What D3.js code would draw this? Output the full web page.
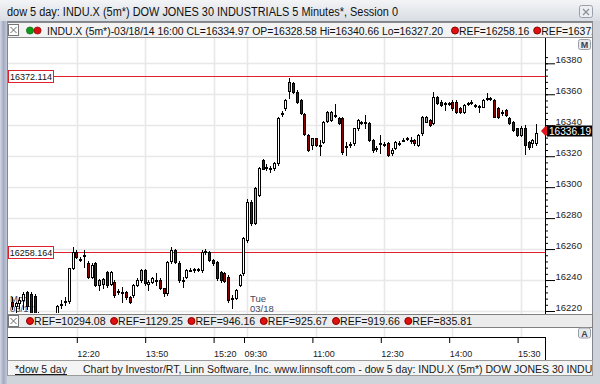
<!DOCTYPE html>
<html>
<head>
<meta charset="utf-8">
<script src="https://d3js.org/d3.v7.min.js"></script>
<style>
  body { margin: 0; background: #fff; }
  svg { display: block; font-family: "Liberation Sans", "DejaVu Sans", sans-serif; }
</style>
</head>
<body>
<div id="chart"></div>
<script>
// two sessions of 5 minute bars, bar times are the bar start
const sessions = [
  { date: "03/17", day: "Mon", first: "10:55" },
  { date: "03/18", day: "Tue", first: "09:30" }
];

// [open, high, low, close]
const bars0317 = [
  [16226,16229,16221,16223],[16223,16226,16219,16225],[16225,16229,16222,16227],[16227,16232,16221,16231],[16232,16233,16221,16223],
  [16231,16232,16217,16219],[16230,16231,16215,16217],[16219,16219.5,16212,16214],[16214,16216,16208,16210],[16210,16214,16206,16213],
  [16213,16216,16209,16215],[16215,16218,16212,16217],[16217,16224,16214,16223.5],[16224,16227,16222,16224.5],[16226,16229,16224,16226.5],
  [16226.5,16248,16225,16247.5],[16248,16261.5,16247,16258.3],[16258.3,16259.5,16254,16255.2],[16253.3,16255,16252,16253.6],[16256,16259.4,16248.6,16256.4],
  [16250.8,16252,16241,16242.2],[16242.2,16251,16241,16249.7],[16250.8,16251.5,16236,16236.8],[16240,16240.5,16233.6,16237],[16240.4,16241,16234.6,16237.2],
  [16245.4,16246,16235.8,16236.8],[16237.5,16246,16237,16245],[16239,16240,16229,16230.3],[16232.5,16234,16231,16232.8],[16232,16235.7,16226,16232.2],
  [16232.5,16233,16228,16229.3],[16229.3,16230,16225,16226],[16230.3,16237.5,16229,16236.8],[16237,16241,16236,16240],[16246.5,16247,16239,16240.2],
  [16246.5,16247,16237,16238],[16237.5,16240,16233.6,16238.6],[16239,16242,16238,16241],[16240,16244.3,16236.8,16240.3],[16240,16241,16234,16234.6],
  [16234.6,16235,16230,16231.4],[16231.4,16252,16230.5,16251.9],[16252,16261.5,16251,16259.4],[16259.4,16260,16251,16251.9],[16250.8,16252,16239,16240],
  [16240,16242.2,16235.7,16240.3],[16242,16247,16241,16246.5],[16246.5,16247.8,16245.6,16246.8],[16246.6,16248,16245.5,16246.9],[16246.7,16248,16245.8,16247],
  [16246.5,16259.4,16245,16258.3],[16258.2,16260,16257,16258.5],[16258.3,16259,16252,16252.9],[16252.9,16253.5,16250,16250.8],[16251.9,16252.5,16240,16241.1],
  [16245.4,16246,16239,16240],[16244.3,16245,16238.5,16239.3],[16242,16243,16226,16227.1],[16228,16230.3,16221.7,16228.3],[16228.5,16234.5,16228,16233.8],
  [16236.8,16244,16236,16243.3]
];

const bars0318 = [
  [16244.3,16268,16243,16266.9],[16265.9,16292.5,16264.5,16290.6],[16290.6,16291.5,16275.5,16276.6],[16299.2,16300,16276,16277],[16294.9,16313,16294,16312.2],
  [16317.5,16318.5,16311.5,16312],[16313,16315,16311,16313.2],[16312.1,16313.5,16310,16312.3],[16312.2,16316,16311,16315.4],[16315.4,16345.5,16314.5,16344.5],
  [16347.6,16349,16346,16347.9],[16350.9,16357,16350,16356.3],[16368.1,16370.5,16357.5,16362],[16367.1,16368,16361,16361.7],[16361.7,16362.5,16354.5,16355.2],
  [16356.3,16357,16347,16347.7],[16347,16348,16333.5,16334.5],[16333.7,16334.5,16323.5,16324],[16331.5,16332,16324.5,16327.5],[16331.5,16332,16326.5,16327.2],
  [16327,16330.5,16320.8,16327.4],[16329.4,16343,16328.5,16342.3],[16348.8,16349.5,16342,16342.5],[16348.8,16349.5,16342.8,16343.4],[16346,16354,16345.5,16346.3],
  [16344.5,16345,16340.5,16341.2],[16344.5,16345,16321.5,16322.9],[16326,16329.4,16320.8,16326.3],[16327.7,16329,16326,16328],[16328.7,16338.5,16327,16338],
  [16338,16344,16337,16343.4],[16341.6,16343,16340.5,16341.9],[16341.6,16346.6,16338,16341.8],[16341.2,16342,16329.5,16330.5],[16330.5,16331,16323,16324],
  [16325,16326.5,16323.5,16325.3],[16328.2,16333.7,16321.9,16328.4],[16327.8,16329,16326.5,16328],[16328.3,16329,16320,16320.8],[16321.9,16325,16321,16324],
  [16325.1,16330,16324.5,16329.4],[16328.5,16330,16327.5,16328.7],[16330.4,16331.5,16329.5,16330.6],[16331.4,16332.5,16330.5,16331.6],[16330.4,16332.6,16328.3,16330.6],
  [16330.5,16331,16327.5,16328.3],[16327.2,16334.5,16326.5,16333.7],[16345.5,16346,16334,16334.8],[16345.5,16346,16342,16342.3],[16343.4,16344,16339.5,16340.1],
  [16341.2,16361.7,16340.5,16358],[16358.4,16359,16353.5,16354.2],[16355.2,16356,16352.5,16353.1],[16354,16355.2,16349.8,16354.3],[16354.1,16355,16353,16354.3],
  [16355.2,16356,16350,16350.9],[16355.2,16356,16348,16348.8],[16350.9,16351.5,16348,16348.6],[16348.8,16353.5,16348,16353.1],[16354,16355,16353,16354.3],
  [16355,16356,16354,16355.3],[16353,16354,16352,16353.3],[16352,16353,16348.5,16352.2],[16352,16357,16351.5,16356.3],[16357.3,16360.6,16356.5,16357.6],
  [16357.2,16358.5,16356,16357.5],[16356.3,16357,16345,16345.5],[16351,16351.5,16344.5,16345.3],[16348.2,16350,16346.5,16348.5],[16349.8,16350.5,16346,16346.6],
  [16344.5,16345,16340.5,16341.2],[16342.3,16343,16336,16336.9],[16338,16338.5,16333,16333.7],[16338,16339.5,16333,16333.8],[16338,16340,16321.5,16327.5],
  [16329.4,16330,16324.5,16326.2],[16328.3,16331,16326,16330.5],[16328.58,16340.66,16327.20,16334.97]
];

const timeTicks = ["03/17 12:20", "03/17 13:50", "03/17 15:20", "03/18 09:30", "03/18 11:00", "03/18 12:30", "03/18 14:00", "03/18 15:30"];
const priceTicks = [16220, 16240, 16260, 16280, 16300, 16320, 16340, 16360, 16380];
const minorTicks = d3.range(16220, 16385, 4);
const refLevels = [16258.164, 16372.114];
const studyRefs = [10294.08, 1129.25, 946.16, 925.67, 919.66, 835.81];
const lastPrice = 16336.19;
const titleText = "dow 5 day: INDU.X (5m*) DOW JONES 30 INDUSTRIALS 5 Minutes*, Session 0";

// build bars
const toMin = s => { const [h, m] = s.split(":").map(Number); return h * 60 + m; };
const hhmm = m => String(Math.floor(m / 60)).padStart(2, "0") + ":" + String(m % 60).padStart(2, "0");
const bars = [];
[bars0317, bars0318].forEach((rows, k) => {
  rows.forEach((r, j) => {
    bars.push({ key: sessions[k].date + " " + hhmm(toMin(sessions[k].first) + 5 * j), session: k,
                o: r[0], h: r[1], l: r[2], c: r[3] });
  });
});
const last = bars[bars.length - 1];

const svg = d3.select("#chart").append("svg").attr("width", 600).attr("height", 384);
const defs = svg.append("defs");
const g1 = defs.append("linearGradient").attr("id", "titleGrad").attr("x1", 0).attr("y1", 0).attr("x2", 0).attr("y2", 1);
g1.append("stop").attr("offset", 0).attr("stop-color", "#f3f4f6");
g1.append("stop").attr("offset", 1).attr("stop-color", "#d9dde3");
const g2 = defs.append("linearGradient").attr("id", "sideGrad").attr("x1", 0).attr("y1", 0).attr("x2", 1).attr("y2", 0);
g2.append("stop").attr("offset", 0).attr("stop-color", "#d3d7e0");
g2.append("stop").attr("offset", 0.5).attr("stop-color", "#a2abc6");
g2.append("stop").attr("offset", 1).attr("stop-color", "#c4c9d6");
function clip(id, x, y, w, h) {
  defs.append("clipPath").attr("id", id).append("rect").attr("x", x).attr("y", y).attr("width", w).attr("height", h);
}
clip("pane", 7, 38, 538, 275);
clip("hdr", 7, 22, 585, 16);
clip("stat", 7, 361, 585, 15);

// window frame
svg.append("rect").attr("width", 600).attr("height", 384).attr("fill", "#cfd3da");
svg.append("rect").attr("width", 600).attr("height", 21).attr("fill", "url(#titleGrad)");
svg.append("rect").attr("x", 0).attr("y", 21).attr("width", 7).attr("height", 363).attr("fill", "url(#sideGrad)");
svg.append("text").attr("x", 7).attr("y", 16).attr("font-size", 12).attr("fill", "#111")
  .attr("textLength", 391).attr("lengthAdjust", "spacingAndGlyphs").text(titleText);
svg.append("rect").attr("x", 579.5).attr("y", 5.5).attr("width", 13).attr("height", 12).attr("rx", 2)
  .attr("fill", "#eceef1").attr("stroke", "#9aa0aa");
svg.append("path").attr("d", "M583,9L589,15M589,9L583,15").attr("stroke", "#8a8f98").attr("stroke-width", 1.2);

// chart panel
svg.append("rect").attr("x", 7.5).attr("y", 21.5).attr("width", 585).attr("height", 354)
  .attr("fill", "#fff").attr("stroke", "#80868f");

const x = d3.scalePoint().domain(bars.map(d => d.key)).range([12.2, 536.6]);
const y = d3.scaleLinear().domain([16220, 16380]).range([311, 63.3]);
const barStep = x.step();

// grid (second session's grid sits one bar right of its tick)
const gridX = d => Math.round(x(d) + (d.startsWith(sessions[1].date) ? barStep * 0.85 : 0)) + 0.5;
const grid = svg.append("g").attr("stroke", "#e8e8e8").attr("stroke-width", 1.6);
grid.selectAll("line.h").data(priceTicks).join("line")
  .attr("x1", 8).attr("x2", 545).attr("y1", d => Math.round(y(d)) + 0.5).attr("y2", d => Math.round(y(d)) + 0.5);
grid.selectAll("line.v").data(timeTicks).join("line")
  .attr("x1", gridX).attr("x2", gridX).attr("y1", 38).attr("y2", 337);

// day labels
sessions.forEach((s, k) => {
  const lx = k === 0 ? 10 : x(s.date + " " + s.first) + 6;
  const t = svg.append("g").attr("font-size", 9.5).attr("fill", "#3e4760");
  t.append("text").attr("x", lx).attr("y", 302).text(s.day);
  t.append("text").attr("x", lx).attr("y", 311.5).text(s.date);
});

// reference lines
const pane = svg.append("g").attr("clip-path", "url(#pane)");
pane.selectAll("line.ref").data(refLevels).join("line")
  .attr("x1", 8).attr("x2", 545).attr("y1", d => Math.round(y(d)) + 0.5).attr("y2", d => Math.round(y(d)) + 0.5)
  .attr("stroke", "#e0202a").attr("stroke-width", 1);

// candles
const fillOf = (d, i) => d.c >= d.o ? "#ffffff" : (i > 0 && d.c >= bars[i - 1].c ? "#a4a4a4" : "#8c0000");
const cg = pane.selectAll("g.bar").data(bars).join("g").attr("shape-rendering", "crispEdges");
cg.append("line")
  .attr("x1", d => Math.floor(x(d.key)) + 0.5).attr("x2", d => Math.floor(x(d.key)) + 0.5)
  .attr("y1", d => Math.round(y(d.h))).attr("y2", d => Math.round(y(d.l)) + 1)
  .attr("stroke", "#000");
cg.append("rect")
  .attr("x", d => Math.floor(x(d.key)) - 0.5)
  .attr("y", d => Math.round(y(Math.max(d.o, d.c))) + 0.5)
  .attr("width", 2)
  .attr("height", d => Math.max(1, Math.round(y(Math.min(d.o, d.c))) - Math.round(y(Math.max(d.o, d.c)))))
  .attr("fill", fillOf).attr("stroke", "#000");

// reference level boxes
const rb = svg.selectAll("g.refbox").data(refLevels).join("g");
rb.append("rect").attr("x", 8.5).attr("y", d => Math.round(y(d)) - 5.5).attr("width", 45).attr("height", 12)
  .attr("fill", "#fff").attr("stroke", "#e0202a");
rb.append("text").attr("x", 31).attr("y", d => Math.round(y(d)) + 4).attr("text-anchor", "middle")
  .attr("font-size", 9).attr("fill", "#111").text(d => d3.format(".3f")(d));

// right price axis
const axisG = svg.append("g").attr("transform", "translate(545,0)");
axisG.append("g").call(d3.axisRight(y).tickValues(minorTicks).tickSize(3).tickFormat(""))
  .call(g => g.select(".domain").remove());
axisG.append("g").call(d3.axisRight(y).tickValues(priceTicks).tickSize(10).tickFormat(d3.format("d")))
  .call(g => g.select(".domain").remove())
  .call(g => g.selectAll("text").attr("x", 10.5).attr("dy", "-0.5").attr("font-size", 9.5)
    .attr("font-family", "Liberation Sans, sans-serif").attr("fill", "#222"));
svg.append("line").attr("x1", 545.5).attr("x2", 545.5).attr("y1", 38).attr("y2", 314).attr("stroke", "#000");

// last price marker
const ly = Math.round(y(lastPrice));
svg.append("path").attr("d", `M541,${ly}L545,${ly - 4.5}L548,${ly - 4.5}L548,${ly + 4.5}L545,${ly + 4.5}Z`).attr("fill", "#e2141c");
svg.append("rect").attr("x", 547).attr("y", ly - 5.5).attr("width", 45).attr("height", 11).attr("fill", "#000");
svg.append("text").attr("x", 549).attr("y", ly + 4).attr("font-size", 10).attr("fill", "#fff")
  .attr("textLength", 42).attr("lengthAdjust", "spacingAndGlyphs")
  .text(d3.format(".2f")(lastPrice));

function button(bx, by, label) {
  svg.append("rect").attr("x", bx + 0.5).attr("y", by + 0.5).attr("width", 12).attr("height", 10).attr("rx", 2)
    .attr("fill", "#e9eaec").attr("stroke", "#9a9ea6");
  svg.append("text").attr("x", bx + 6.5).attr("y", by + 9).attr("text-anchor", "middle")
    .attr("font-size", 9).attr("font-weight", "bold").attr("fill", "#3a4150").text(label);
}
button(578, 39, "M");

// close box helper
function xBox(bx, by) {
  svg.append("rect").attr("x", bx + 0.5).attr("y", by + 0.5).attr("width", 10).attr("height", 11)
    .attr("fill", "#fff").attr("stroke", "#777");
  svg.append("path").attr("d", `M${bx + 2.5},${by + 3}L${bx + 8.5},${by + 9}M${bx + 8.5},${by + 3}L${bx + 2.5},${by + 9}`)
    .attr("stroke", "#666");
}

// header row
svg.append("rect").attr("x", 7.5).attr("y", 22.5).attr("width", 585).attr("height", 15)
  .attr("fill", "#f3f3f3").attr("stroke", "#8c8c8c");
xBox(8, 24);
svg.append("circle").attr("cx", 30).attr("cy", 30.5).attr("r", 3.6).attr("fill", "#0c9a18").attr("stroke", "#055a0a").attr("stroke-width", 0.6);
svg.append("circle").attr("cx", 37.5).attr("cy", 30.5).attr("r", 3.6).attr("fill", "#d81010").attr("stroke", "#7a0505").attr("stroke-width", 0.6);
const hdr = svg.append("g").attr("clip-path", "url(#hdr)").attr("font-size", 10).attr("fill", "#111");
const f2 = d3.format(".2f");
hdr.append("text").attr("x", 47).attr("y", 35)
  .attr("textLength", 396).attr("lengthAdjust", "spacingAndGlyphs")
  .text(`INDU.X (5m*)-03/18/14 16:00 CL=${f2(last.c)} OP=${f2(last.o)} Hi=${f2(last.h)} Lo=${f2(last.l)}`);
let hx = 455;
refLevels.forEach(v => {
  hdr.append("circle").attr("cx", hx).attr("cy", 30.5).attr("r", 3.5).attr("fill", "#e01010").attr("stroke", "#800");
  const t = hdr.append("text").attr("x", hx + 4).attr("y", 35).attr("font-size", 10.4).text("REF=" + f2(v));
  hx = hx + 4 + t.node().getComputedTextLength() + 8;
});

// study reference row under price pane
svg.append("rect").attr("x", 7.5).attr("y", 314.5).attr("width", 585).attr("height", 13)
  .attr("fill", "#ececec").attr("stroke", "#808080");
xBox(8, 315);
let sx = 30;
studyRefs.forEach(v => {
  svg.append("circle").attr("cx", sx).attr("cy", 321).attr("r", 3.5).attr("fill", "#e01010").attr("stroke", "#800");
  const t = svg.append("text").attr("x", sx + 4).attr("y", 325).attr("font-size", 10.6).attr("fill", "#111").text("REF=" + f2(v));
  sx = sx + 4 + t.node().getComputedTextLength() + 8.5;
});
button(578, 327.5, "A");

// time axis
const timeAxis = d3.axisBottom(x).tickValues(timeTicks).tickSize(6).tickFormat(k => k.slice(6));
svg.append("g").attr("transform", "translate(0,337)").call(timeAxis)
  .call(g => g.select(".domain").remove())
  .call(g => g.selectAll("text").attr("text-anchor", "start").attr("x", 0).attr("y", 19.5).attr("dy", 0)
    .attr("font-size", 9).attr("font-family", "Liberation Sans, sans-serif").attr("fill", "#222"));
svg.append("line").attr("x1", 8).attr("x2", 545).attr("y1", 337.5).attr("y2", 337.5).attr("stroke", "#000");
svg.append("line").attr("x1", 545.5).attr("x2", 545.5).attr("y1", 337).attr("y2", 360).attr("stroke", "#000");

// status bar
svg.append("rect").attr("x", 7.5).attr("y", 360.5).attr("width", 585).attr("height", 15)
  .attr("fill", "#f4f4f4").attr("stroke", "#9a9a9a");
const st = svg.append("g").attr("clip-path", "url(#stat)").attr("font-size", 10.5).attr("fill", "#1a1a1a");
const link = st.append("text").attr("x", 15).attr("y", 372.5).text("*dow 5 day");
st.append("line").attr("x1", 15).attr("x2", 15 + link.node().getComputedTextLength())
  .attr("y1", 374.5).attr("y2", 374.5).attr("stroke", "#1a1a1a");
st.append("text").attr("x", 83).attr("y", 372.5)
  .text("Chart by Investor/RT, Linn Software, Inc. www.linnsoft.com - " + titleText);
</script>
</body>
</html>
